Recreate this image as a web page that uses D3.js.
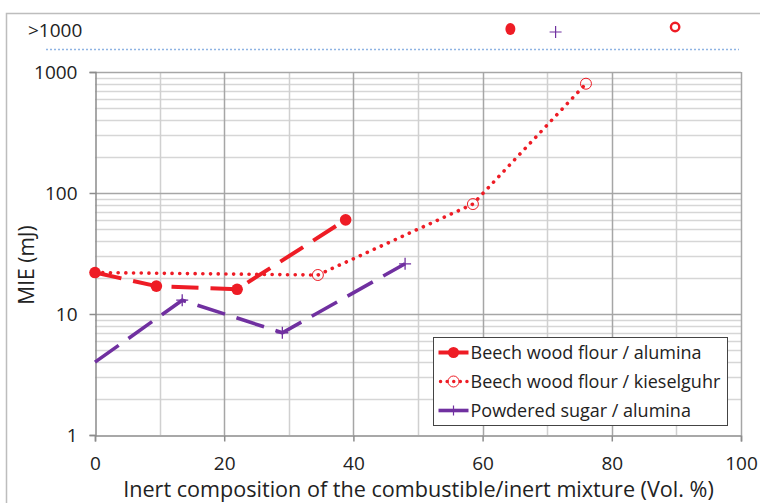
<!DOCTYPE html>
<html>
<head>
<meta charset="utf-8">
<script src="https://cdn.jsdelivr.net/npm/d3@7"></script>
<style>
  html, body { margin: 0; padding: 0; background: #fff; }
  svg { display: block; }
  text { font-family: "Open Sans", "Liberation Sans", sans-serif; fill: #222; }
</style>
</head>
<body>
<svg id="chart" width="760" height="503"></svg>
<script>
// Inert fraction (vol. %) and minimum ignition energy (mJ) for each mixture
const beechAluminaX = [0, 9.5, 22, 38.8];
const beechAluminaY = [22, 17, 16, 60];
const beechKieselX = [0, 34.5, 58.5, 76];
const beechKieselY = [22, 21, 81, 800];
const sugarAluminaX = [0, 13.5, 29, 48];
const sugarAluminaY = [4, 13, 7, 26];

// Compositions whose MIE exceeded the 1000 mJ limit
const overLimitBeechAlumina = [64.3];
const overLimitBeechKiesel = [89.8];
const overLimitSugarAlumina = [71.3];

const seriesNames = ["Beech wood flour / alumina", "Beech wood flour / kieselguhr", "Powdered sugar / alumina"];
const xTicks = [0, 20, 40, 60, 80, 100];
const yTicks = [1, 10, 100, 1000];
const overLimitLabel = ">1000";
const xTitle = "Inert composition of the combustible/inert mixture (Vol. %)";
const yTitle = "MIE (mJ)";

const RED = "#ee1c25";
const PURPLE = "#7030a0";

const svg = d3.select("#chart");
const m = { left: 95, right: 741, top: 72, bottom: 435 };

const x = d3.scaleLinear().domain([0, 100]).range([m.left, m.right]);
const y = d3.scaleLog().domain([1, 1000]).range([m.bottom, m.top]);
const yOver = 30; // row for results above the measuring limit

// outer frame
svg.append("rect").attr("x", 6.5).attr("y", 13.5).attr("width", 760).attr("height", 500)
  .attr("fill", "none").attr("stroke", "#bdbdbd").attr("stroke-width", 1.5);

// grid
const g = svg.append("g");
const minorY = [];
for (let d = 1; d < 1000; d *= 10) for (let k = 2; k <= 9; k++) minorY.push(d * k);
g.selectAll(".hminor").data(minorY).join("line")
  .attr("x1", m.left).attr("x2", m.right)
  .attr("y1", d => Math.round(y(d)) + 0.5).attr("y2", d => Math.round(y(d)) + 0.5)
  .attr("stroke", "#d6d6d6").attr("stroke-width", 1.5);
g.selectAll(".vminor").data(d3.range(10, 100, 20)).join("line")
  .attr("x1", d => Math.round(x(d)) + 0.5).attr("x2", d => Math.round(x(d)) + 0.5)
  .attr("y1", m.top).attr("y2", m.bottom)
  .attr("stroke", "#d0d0d0").attr("stroke-width", 1.5);
g.selectAll(".vmajor").data(xTicks.slice(1)).join("line")
  .attr("x1", d => Math.round(x(d)) + 0.5).attr("x2", d => Math.round(x(d)) + 0.5)
  .attr("y1", m.top).attr("y2", m.bottom)
  .attr("stroke", "#a6a6a6").attr("stroke-width", 1.5);
g.selectAll(".hmajor").data(yTicks.slice(1)).join("line")
  .attr("x1", m.left).attr("x2", m.right)
  .attr("y1", d => Math.round(y(d)) + 0.5).attr("y2", d => Math.round(y(d)) + 0.5)
  .attr("stroke", "#a6a6a6").attr("stroke-width", 1.5);

// axes
const xAxis = svg.append("g").attr("transform", `translate(0,${Math.round(y(1)) + 0.5})`)
  .call(d3.axisBottom(x).tickValues(xTicks).tickSize(6).tickPadding(15).tickFormat(d3.format("d")));
const yAxis = svg.append("g").attr("transform", `translate(${m.left + 0.5},0)`)
  .call(d3.axisLeft(y).tickValues(yTicks).tickSize(6).tickPadding(12).tickFormat(d3.format("d")));
[xAxis, yAxis].forEach(a => {
  a.select(".domain").attr("stroke", "#8c8c8c").attr("stroke-width", 1.5);
  a.selectAll(".tick line").attr("stroke", "#8c8c8c").attr("stroke-width", 1.5);
  a.selectAll("text").attr("font-size", 19).attr("fill", "#222")
    .style("font-family", '"Open Sans", "Liberation Sans", sans-serif');
});

// over-limit row
svg.append("line").attr("x1", 46).attr("x2", 739).attr("y1", 49.5).attr("y2", 49.5)
  .attr("stroke", "#8fb4e3").attr("stroke-width", 1.5).attr("stroke-dasharray", "2,2");
svg.append("text").attr("x", 28).attr("y", 37).attr("font-size", 19).text(overLimitLabel);

// series
const line = d3.line().x(d => x(d[0])).y(d => y(d[1]));
const zip = (a, b) => a.map((v, i) => [v, b[i]]);

const sBA = zip(beechAluminaX, beechAluminaY);
const sBK = zip(beechKieselX, beechKieselY);
const sSA = zip(sugarAluminaX, sugarAluminaY);

svg.append("path").datum(sBK).attr("d", line).attr("fill", "none")
  .attr("stroke", RED).attr("stroke-width", 3.6).attr("stroke-linecap", "round")
  .attr("stroke-dasharray", "0.1,7.6");
svg.append("path").datum(sBA).attr("d", line).attr("fill", "none")
  .attr("stroke", RED).attr("stroke-width", 4).attr("stroke-dasharray", "27,12");
svg.append("path").datum(sSA).attr("d", line).attr("fill", "none")
  .attr("stroke", PURPLE).attr("stroke-width", 3.6).attr("stroke-dasharray", "29,12");

svg.selectAll(".ba").data(sBA).join("circle")
  .attr("cx", d => x(d[0])).attr("cy", d => y(d[1])).attr("r", 5.8).attr("fill", RED);
svg.selectAll(".bk").data(sBK.slice(1)).join("circle")
  .attr("cx", d => x(d[0])).attr("cy", d => y(d[1])).attr("r", 5.5).attr("fill", "none")
  .attr("stroke", RED).attr("stroke-width", 1);
const plus = (sel, cx, cy, s, w) => sel.append("path")
  .attr("d", `M${cx - s},${cy}H${cx + s}M${cx},${cy - s}V${cy + s}`)
  .attr("stroke", PURPLE).attr("stroke-width", w).attr("fill", "none");
sSA.slice(1).forEach(d => plus(svg, x(d[0]), y(d[1]), 6, 1.3));

// markers above the limit
overLimitBeechAlumina.forEach(v => svg.append("ellipse").attr("cx", x(v)).attr("cy", yOver - 1)
  .attr("rx", 5).attr("ry", 6).attr("fill", RED));
overLimitBeechKiesel.forEach(v => svg.append("circle").attr("cx", x(v)).attr("cy", yOver - 3)
  .attr("r", 4.2).attr("fill", "none").attr("stroke", RED).attr("stroke-width", 2.4));
overLimitSugarAlumina.forEach(v => plus(svg, x(v), yOver + 2, 6, 1.2));

// titles
svg.append("text").attr("x", (m.left + m.right) / 2 + 0.5).attr("y", 497).attr("text-anchor", "middle")
  .attr("font-size", 21.6).text(xTitle);
svg.append("text").attr("transform", "translate(34,265) rotate(-90)").attr("text-anchor", "middle")
  .attr("font-size", 21).text(yTitle);

// legend
const lg = svg.append("g").attr("transform", "translate(433.5,337.5)");
lg.append("rect").attr("width", 294).attr("height", 88).attr("fill", "#fff")
  .attr("stroke", "#444").attr("stroke-width", 1);
const rows = [15, 44, 73];
// row 0
lg.append("line").attr("x1", 5).attr("x2", 35).attr("y1", rows[0]).attr("y2", rows[0])
  .attr("stroke", RED).attr("stroke-width", 4);
lg.append("circle").attr("cx", 20).attr("cy", rows[0]).attr("r", 5.5).attr("fill", RED);
// row 1
lg.append("line").attr("x1", 7).attr("x2", 35).attr("y1", rows[1]).attr("y2", rows[1])
  .attr("stroke", RED).attr("stroke-width", 3.4).attr("stroke-linecap", "round")
  .attr("stroke-dasharray", "0.1,6.5");
lg.append("circle").attr("cx", 20).attr("cy", rows[1]).attr("r", 5.5).attr("fill", "none")
  .attr("stroke", RED).attr("stroke-width", 1);
// row 2
lg.append("line").attr("x1", 5).attr("x2", 35).attr("y1", rows[2]).attr("y2", rows[2])
  .attr("stroke", PURPLE).attr("stroke-width", 3.6);
plus(lg, 20, rows[2], 5, 1.2);
lg.selectAll(".lt").data(seriesNames).join("text")
  .attr("x", 37).attr("y", (d, i) => rows[i] + 6).attr("font-size", 18).text(d => d);
</script>
</body>
</html>
